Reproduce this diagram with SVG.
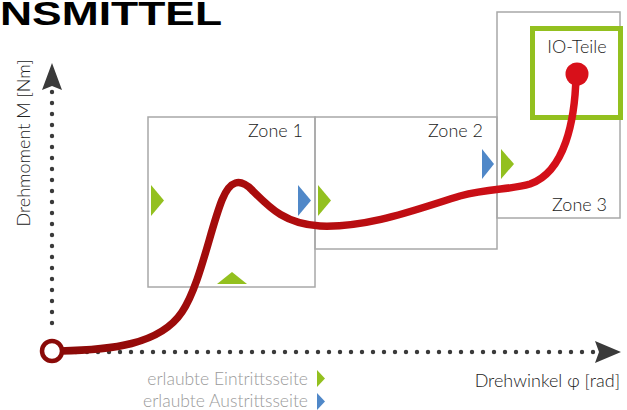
<svg xmlns="http://www.w3.org/2000/svg" width="627" height="410" viewBox="0 0 627 410">
<style>
.zone{fill:none;stroke:#a8a8a8;stroke-width:1.5}
.lbl{font-family:Lato,"Liberation Sans",sans-serif;font-weight:300;font-size:18px;fill:#222}
.leg{font-family:Lato,"Liberation Sans",sans-serif;font-weight:300;font-size:17.5px;fill:#9a9a9a}
.g{fill:#93c01f}
.b{fill:#5088c8}
.axis{stroke:#3a3a3a;stroke-width:4.4;stroke-linecap:round;stroke-dasharray:0 11;fill:none}
</style>
<defs>
<linearGradient id="curveGrad" gradientUnits="userSpaceOnUse" x1="60" y1="0" x2="580" y2="0">
<stop offset="0" stop-color="#8a0a08"/>
<stop offset="0.35" stop-color="#a80c0c"/>
<stop offset="1" stop-color="#d8101a"/>
</linearGradient>
</defs>
<rect width="627" height="410" fill="#fff"/>
<text x="0" y="25" font-family="Liberation Sans,Arial,sans-serif" font-weight="bold" font-size="33" textLength="222" lengthAdjust="spacingAndGlyphs" fill="#000">NSMITTEL</text>

<g id="zone1">
<rect class="zone" x="148" y="117" width="167" height="170"/>
<text class="lbl" x="303" y="137" text-anchor="end">Zone 1</text>
</g>
<g id="zone2">
<rect class="zone" x="315" y="117" width="182" height="132"/>
<text class="lbl" x="483" y="137" text-anchor="end">Zone 2</text>
</g>
<g id="zone3">
<rect class="zone" x="497" y="12" width="123" height="206"/>
<text class="lbl" x="607" y="211" text-anchor="end">Zone 3</text>
</g>
<g id="io-teile">
<rect x="532.5" y="28.5" width="88" height="89" fill="none" stroke="#93c01f" stroke-width="5"/>
<text class="lbl" x="577" y="53" text-anchor="middle">IO-Teile</text>
</g>

<g id="markers">
<polygon class="g" points="151,185 164,200.5 151,216"/>
<polygon class="b" points="298,185 311,200.5 298,216"/>
<polygon class="g" points="318,185 331,200.5 318,216"/>
<polygon class="g" points="217,284 232,272 247,284"/>
<polygon class="b" points="482,149 494,164 482,179"/>
<polygon class="g" points="501,149 514,164 501,179"/>
</g>

<g id="axes">
<line class="axis" x1="52" y1="323" x2="52" y2="90"/>
<polygon points="52,63 62,90 52,86 42,90" fill="#3a3a3a"/>
<line class="axis" x1="65" y1="352" x2="595" y2="352"/>
<polygon points="621,352 595,341 599,352 595,363" fill="#3a3a3a"/>
<text class="lbl" transform="translate(30,143) rotate(-90)" text-anchor="middle">Drehmoment M [Nm]</text>
<text class="lbl" x="620" y="387" text-anchor="end">Drehwinkel φ [rad]</text>
</g>

<g id="connectors">
<path d="M 60 351 C 110 350, 160 345, 182 312 C 200 285, 210 230, 222 200 C 230 180, 240 178, 252 190 C 270 208, 285 224, 320 226 C 370 228, 420 208, 460 196 C 490 188, 510 190, 530 184 C 565 172, 575 120, 576 76" fill="none" stroke="url(#curveGrad)" stroke-width="7.5" stroke-linecap="round"/>
</g>
<g id="start">
<circle cx="52" cy="351" r="10" fill="#fff" stroke="#8a0a08" stroke-width="4.5"/>
</g>
<g id="end">
<circle cx="577" cy="74" r="11.5" fill="#d8101a"/>
</g>

<g id="legend">
<text class="leg" x="308" y="385" text-anchor="end">erlaubte Eintrittsseite</text>
<polygon class="g" points="317,370 325,378.5 317,387"/>
<text class="leg" x="308" y="407" text-anchor="end">erlaubte Austrittsseite</text>
<polygon class="b" points="317,393 325,401.5 317,410"/>
</g>
</svg>
